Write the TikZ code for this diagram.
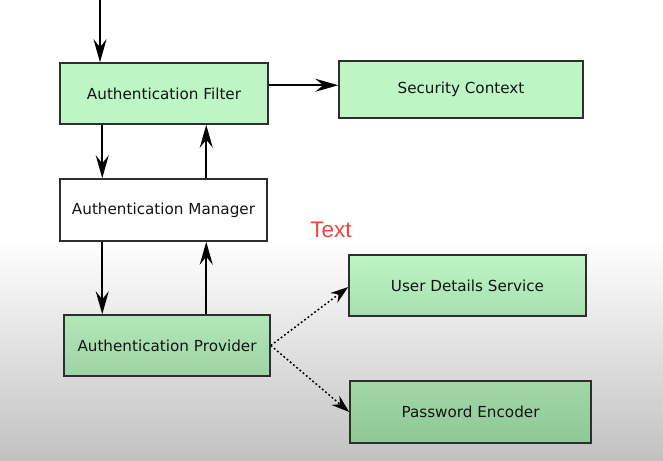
\documentclass[tikz,border=0pt]{standalone}
\usepackage{fontspec}
\setmainfont{DejaVu Sans}
\newfontfamily\arialfont{Liberation Sans}
\usetikzlibrary{arrows.meta,calc}
\definecolor{boxline}{HTML}{2E2E2E}
\definecolor{txtcol}{HTML}{151515}
\definecolor{redtxt}{HTML}{F2453A}
\definecolor{lgreen}{HTML}{BEF5C4}
\definecolor{provtop}{HTML}{B2E8B8}
\definecolor{provbot}{HTML}{9ED3A5}
\definecolor{udsbot}{HTML}{A8DFAE}
\definecolor{petop}{HTML}{A2D8A8}
\definecolor{pebot}{HTML}{8FC795}
\tikzset{
  box/.style={draw=boxline, line width=1.5pt, minimum width=#1, inner sep=0pt,
    font=\fontsize{15.2}{17}\selectfont, text=txtcol},
  arr/.style={line width=1.7pt, -{Stealth[length=23pt,width=13pt,inset=8pt]}},
  dotarr/.style={line width=1.5pt, dash pattern=on 1.8pt off 2.4pt,
    -{Stealth[length=18pt,width=12pt,inset=6pt]}},
}
\begin{document}
\begin{tikzpicture}[x=1pt,y=-1pt]
\useasboundingbox (0,0) rectangle (663,460);
\fill[white] (0,0) rectangle (663,240);
\shade[top color=white, bottom color=black!24] (0,240) rectangle (663,460);

\node[box=208pt, minimum height=61pt, fill=lgreen] (filter) at (164,93.5) {Authentication Filter};
\node[box=244pt, minimum height=57pt, fill=lgreen] (sc) at (461,89.5) {Security Context};
\node[box=207pt, minimum height=62pt, fill=white] (mgr) at (163.5,210) {Authentication Manager};
\node[box=206pt, minimum height=61pt, top color=provtop, bottom color=provbot] (prov) at (167,345.5) {Authentication Provider};
\node[box=237pt, minimum height=61pt, top color=lgreen, bottom color=udsbot] (uds) at (467.5,285.5) {User Details Service};
\node[box=241pt, minimum height=62pt, top color=petop, bottom color=pebot] (pe) at (470.5,412) {Password Encoder};

\node[text=redtxt, font=\arialfont\fontsize{22.5}{26}\selectfont] (lbl) at (331,230) {Text};

\coordinate (top) at (100,0);
\draw[arr] (top) -- (top |- filter.north);
\draw[arr] ($(filter.south west)+(43,0)$) -- ($(mgr.north west)+(43,0)$);
\draw[arr] ($(mgr.north west)+(147,0)$) -- ($(filter.south west)+(147,0)$);
\draw[arr] ($(filter.north east)+(0,23)$) -- ($(sc.north west)+(0,25)$);
\draw[arr] ($(mgr.south west)+(43,0)$) -- ($(prov.north west)+(39,0)$);
\draw[arr] ($(prov.north west)+(143,0)$) -- ($(mgr.south west)+(147,0)$);
\draw[dotarr] (prov.east) -- ($(uds.west)+(0,1.5)$);
\draw[dotarr] (prov.east) -- (pe.west);
\end{tikzpicture}
\end{document}
